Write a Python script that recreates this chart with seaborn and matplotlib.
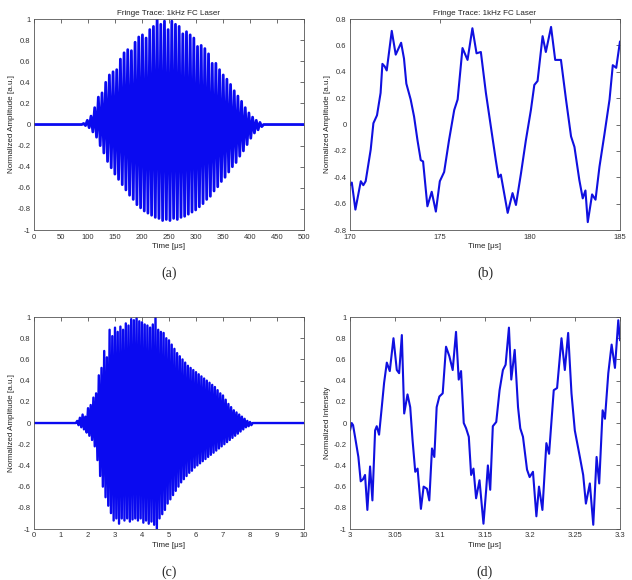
import matplotlib
matplotlib.use("Agg")
import matplotlib.pyplot as plt
import seaborn as sns
import numpy as np

# ---- panel (a): fringe trace, 1 kHz FC laser, spike peaks every 6.8 us from 92 us
a_start, a_step = 92.0, 6.8
a_upper = [0.01, 0.04, 0.08, 0.16, 0.26, 0.30, 0.40, 0.47, 0.50, 0.52,
           0.62, 0.68, 0.71, 0.70, 0.78, 0.83, 0.85, 0.82, 0.90, 0.93,
           1.00, 0.95, 0.98, 0.90, 0.98, 0.95, 0.93, 0.86, 0.88, 0.85,
           0.82, 0.74, 0.75, 0.72, 0.67, 0.58, 0.58, 0.52, 0.47, 0.43,
           0.38, 0.32, 0.27, 0.22, 0.16, 0.11, 0.07, 0.04, 0.02]
a_lower = [-0.01, -0.03, -0.07, -0.12, -0.20, -0.27, -0.35, -0.41, -0.47, -0.52,
           -0.57, -0.62, -0.67, -0.71, -0.76, -0.79, -0.82, -0.84, -0.86, -0.88,
           -0.89, -0.91, -0.90, -0.91, -0.89, -0.90, -0.88, -0.87, -0.85, -0.83,
           -0.81, -0.78, -0.75, -0.71, -0.68, -0.63, -0.59, -0.54, -0.50, -0.45,
           -0.40, -0.36, -0.30, -0.25, -0.19, -0.13, -0.08, -0.05, -0.02]

# ---- panel (b): zoom 170-185 us
b_time = [170.0, 170.1, 170.3, 170.6, 170.74, 170.87, 171.15, 171.3, 171.5, 171.7,
          171.8, 171.93, 172.04, 172.32, 172.54, 172.84, 173.0, 173.13, 173.37, 173.56,
          173.75, 173.93, 174.06, 174.3, 174.54, 174.77, 174.99, 175.23, 175.5, 175.79,
          175.98, 176.25, 176.53, 176.8, 177.03, 177.27, 177.55, 177.83, 178.1, 178.25,
          178.38, 178.76, 179.03, 179.22, 179.5, 179.77, 180.05, 180.24, 180.42, 180.7,
          180.88, 181.17, 181.4, 181.72, 182.0, 182.28, 182.47, 182.74, 182.93, 183.08,
          183.21, 183.45, 183.64, 183.86, 184.14, 184.42, 184.6, 184.79, 185.0]
b_value = [-0.46, -0.44, -0.645, -0.43, -0.46, -0.43, -0.19, 0.01, 0.07, 0.24,
           0.46, 0.44, 0.41, 0.71, 0.53, 0.62, 0.50, 0.31, 0.19, 0.06,
           -0.12, -0.27, -0.28, -0.62, -0.51, -0.66, -0.43, -0.36, -0.12, 0.11,
           0.19, 0.58, 0.49, 0.73, 0.54, 0.55, 0.24, -0.02, -0.27, -0.40,
           -0.38, -0.67, -0.52, -0.61, -0.37, -0.12, 0.11, 0.30, 0.33, 0.67,
           0.55, 0.74, 0.49, 0.49, 0.19, -0.09, -0.17, -0.42, -0.56, -0.50,
           -0.74, -0.53, -0.57, -0.32, -0.07, 0.19, 0.45, 0.43, 0.63]

# ---- panel (c): fringe trace, spike peaks every 0.1 us from 1.6 us
c_start, c_step = 1.6, 0.1
c_upper = [0.02, 0.05, 0.08, 0.06, 0.14, 0.17, 0.24, 0.28, 0.45, 0.52,
           0.68, 0.62, 0.88, 0.82, 0.90, 0.86, 0.91, 0.88, 0.94, 0.92,
           0.98, 0.97, 0.99, 0.96, 0.95, 0.93, 0.92, 0.90, 0.93, 1.00,
           0.88, 0.86, 0.85, 0.80, 0.78, 0.74, 0.70, 0.66, 0.63, 0.60,
           0.57, 0.54, 0.52, 0.50, 0.48, 0.46, 0.44, 0.42, 0.40, 0.38,
           0.36, 0.34, 0.31, 0.28, 0.26, 0.22, 0.18, 0.15, 0.12, 0.10,
           0.08, 0.06, 0.04, 0.02, 0.01]
c_lower = [-0.02, -0.04, -0.06, -0.09, -0.12, -0.16, -0.22, -0.35, -0.50, -0.60,
           -0.70, -0.78, -0.85, -0.92, -0.90, -0.95, -0.90, -0.92, -0.90, -0.93,
           -0.91, -0.90, -0.92, -0.90, -0.94, -0.92, -0.95, -0.93, -0.96, -1.00,
           -0.90, -0.86, -0.82, -0.76, -0.72, -0.68, -0.64, -0.60, -0.56, -0.53,
           -0.50, -0.47, -0.45, -0.42, -0.40, -0.38, -0.36, -0.34, -0.32, -0.30,
           -0.28, -0.26, -0.24, -0.22, -0.20, -0.18, -0.16, -0.14, -0.12, -0.10,
           -0.08, -0.06, -0.04, -0.03, -0.02]

# ---- panel (d): zoom 3.0-3.3 us
d_time = [3.0, 3.0019, 3.0034, 3.0056, 3.0093, 3.0119, 3.0145, 3.0167, 3.0193, 3.0223,
          3.0249, 3.0279, 3.0297, 3.0323, 3.0353, 3.0379, 3.0409, 3.0442, 3.0483, 3.052,
          3.0546, 3.0576, 3.0602, 3.0639, 3.0669, 3.0695, 3.0725, 3.0751, 3.0788, 3.0818,
          3.0855, 3.0881, 3.0911, 3.0937, 3.0963, 3.0993, 3.103, 3.1067, 3.1104, 3.1141,
          3.1178, 3.1208, 3.1234, 3.1264, 3.129, 3.132, 3.1346, 3.1372, 3.1401, 3.1439,
          3.1483, 3.1513, 3.1532, 3.1558, 3.1587, 3.1625, 3.1662, 3.1699, 3.1729, 3.1766,
          3.1792, 3.183, 3.1867, 3.1892, 3.1922, 3.1967, 3.1996, 3.2033, 3.2071, 3.21,
          3.2138, 3.2182, 3.2212, 3.2238, 3.2264, 3.2301, 3.235, 3.2387, 3.2424, 3.2461,
          3.2498, 3.2554, 3.2591, 3.2621, 3.2665, 3.2703, 3.274, 3.2769, 3.2807, 3.2833,
          3.287, 3.2907, 3.2944, 3.2981, 3.3]
d_value = [-0.07, 0.0, -0.02, -0.13, -0.32, -0.55, -0.53, -0.49, -0.82, -0.41,
           -0.73, -0.07, -0.03, -0.11, 0.15, 0.38, 0.57, 0.49, 0.80, 0.50,
           0.47, 0.83, 0.09, 0.27, 0.15, -0.16, -0.46, -0.43, -0.81, -0.60,
           -0.62, -0.73, -0.24, -0.32, 0.15, 0.25, 0.28, 0.72, 0.63, 0.50,
           0.86, 0.41, 0.49, 0.0, -0.05, -0.13, -0.49, -0.43, -0.71, -0.54,
           -0.95, -0.63, -0.40, -0.63, -0.03, 0.01, 0.31, 0.50, 0.55, 0.90,
           0.41, 0.69, 0.15, -0.05, -0.13, -0.44, -0.51, -0.46, -0.88, -0.60,
           -0.82, -0.19, -0.29, 0.01, 0.31, 0.33, 0.80, 0.50, 0.85, 0.28,
           -0.07, -0.32, -0.49, -0.76, -0.57, -0.96, -0.32, -0.57, 0.12, 0.04,
           0.47, 0.74, 0.52, 0.97, 0.78]

a_xticks = [0, 50, 100, 150, 200, 250, 300, 350, 400, 450, 500]
b_xticks = [170, 175, 180, 185]
c_xticks = [0, 1, 2, 3, 4, 5, 6, 7, 8, 9, 10]
d_xticks = [3, 3.05, 3.1, 3.15, 3.2, 3.25, 3.3]
yticks_full = [-1, -0.8, -0.6, -0.4, -0.2, 0, 0.2, 0.4, 0.6, 0.8, 1]
yticks_b = [-0.8, -0.6, -0.4, -0.2, 0, 0.2, 0.4, 0.6, 0.8]


def zigzag(start, step, upper, lower, x_min, x_max):
    # each fringe goes up to its upper peak, then down to its lower peak
    xs, ys = [x_min, start - step / 2], [0.0, 0.0]
    for i, (u, l) in enumerate(zip(upper, lower)):
        xs += [start + i * step, start + i * step + step / 2]
        ys += [u, l]
    xs += [start + len(upper) * step, x_max]
    ys += [0.0, 0.0]
    return np.array(xs), np.array(ys)


sns.set_style("white")
plt.rcParams["font.family"] = ["Liberation Sans", "DejaVu Sans"]
plt.rcParams["axes.unicode_minus"] = False

fig = plt.figure(figsize=(6.32, 5.8), dpi=100)
ax_a = fig.add_axes([0.0538, 0.6034, 0.4272, 0.3638])
ax_b = fig.add_axes([0.5538, 0.6034, 0.4272, 0.3638])
ax_c = fig.add_axes([0.0538, 0.0879, 0.4272, 0.3655])
ax_d = fig.add_axes([0.5538, 0.0879, 0.4272, 0.3655])

xa, ya = zigzag(a_start, a_step, a_upper, a_lower, 0, 500)
xc, yc = zigzag(c_start, c_step, c_upper, c_lower, 0, 10)

dense = dict(color="#0a0af0", estimator=None, sort=False)
sns.lineplot(x=xa, y=ya, ax=ax_a, lw=2.0, **dense)
sns.lineplot(x=b_time, y=b_value, ax=ax_b, color="#1010e0", lw=1.5, estimator=None,
             sort=False, solid_joinstyle="round")
sns.lineplot(x=xc, y=yc, ax=ax_c, lw=1.7, **dense)
sns.lineplot(x=d_time, y=d_value, ax=ax_d, color="#1010e0", lw=1.5, estimator=None,
             sort=False, solid_joinstyle="round")

setup = [
    (ax_a, (0, 500), a_xticks, (-1, 1), yticks_full, "Normalized Amplitude [a.u.]", "(a)"),
    (ax_b, (170, 185), b_xticks, (-0.8, 0.8), yticks_b, "Normalized Amplitude [a.u.]", "(b)"),
    (ax_c, (0, 10), c_xticks, (-1, 1), yticks_full, "Normalized Amplitude [a.u.]", "(c)"),
    (ax_d, (3, 3.3), d_xticks, (-1, 1), yticks_full, "Normalized Intensity", "(d)"),
]
for ax, xl, xt, yl, yt, ylab, cap in setup:
    ax.set_xlim(*xl)
    ax.set_ylim(*yl)
    ax.set_xticks(xt)
    ax.set_xticklabels([f"{v:g}" for v in xt])
    ax.set_yticks(yt)
    ax.set_yticklabels([f"{v:g}" for v in yt])
    ax.tick_params(direction="in", top=True, right=True, length=3, width=0.5,
                   labelsize=5.5, colors="#333333", pad=2.5)
    for sp in ax.spines.values():
        sp.set_visible(True)
        sp.set_color("#555555")
        sp.set_linewidth(0.6)
    ax.set_xlabel("Time [μs]", fontsize=5.8, labelpad=1.5, color="#222222")
    ax.set_ylabel(ylab, fontsize=5.8, labelpad=2, color="#222222")
    pos = ax.get_position()
    fig.text(pos.x0 + pos.width / 2, pos.y0 - 0.075, cap, ha="center", va="center",
             fontsize=10, family=["Liberation Serif", "DejaVu Serif"])

ax_a.set_title("Fringe Trace: 1kHz FC Laser", fontsize=5.8, pad=3, color="#222222")
ax_b.set_title("Fringe Trace: 1kHz FC Laser", fontsize=5.8, pad=3, color="#222222")

fig.savefig("out.png", dpi=100, facecolor="white")
